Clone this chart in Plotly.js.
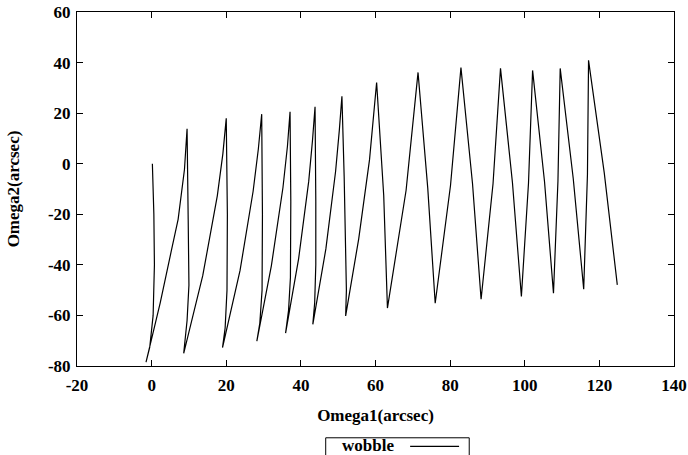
<!DOCTYPE html>
<html>
<head>
<meta charset="utf-8">
<script src="https://cdn.plot.ly/plotly-3.0.1.min.js"></script>
<style>html,body{margin:0;padding:0;background:#fff;}#chart{width:688px;height:455px;}</style>
</head>
<body>
<div id="chart"></div>
<script>
var seriesName = "wobble";
var xTitle = "Omega1(arcsec)";
var yTitle = "Omega2(arcsec)";
var xTicks = [-20, 0, 20, 40, 60, 80, 100, 120, 140];
var yTicks = [-80, -60, -40, -20, 0, 20, 40, 60];

var omega1 = [
  0.2, 0.6, 0.75, 0.4, -0.5, -1.5,
  2.3, 5.2, 7.1, 8.8, 9.5,
  9.8, 10.0, 9.5, 8.6,
  13.7, 17.6, 19.1, 20.0,
  20.3, 20.2, 19.7, 19.0,
  23.7, 27.2, 28.6, 29.5,
  29.7, 29.6, 29.0, 28.2,
  32.1, 35.2, 36.4, 37.1,
  37.3, 37.2, 36.7, 35.9,
  39.4, 42.1, 43.1, 43.8,
  44.0, 44.0, 43.7, 43.2,
  46.7, 49.3, 50.3, 51.0,
  51.6, 52.1, 52.2, 52.0,
  55.5, 58.4, 60.3,
  62.2, 63.2,
  68.2, 71.4,
  74.0, 76.0,
  80.1, 82.9,
  86.0, 88.3,
  91.5, 93.5,
  96.7, 99.1,
  101.0, 102.1,
  105.3, 107.7,
  108.9, 109.5,
  113.0, 115.8,
  116.8, 117.1,
  121.3, 124.8
];
var omega2 = [
  0, -20, -40, -60, -72.5, -78.5,
  -55, -35, -22, -2.3, 13.8,
  -22, -48, -62, -75,
  -44.3, -12.7, 4, 18,
  -20, -50, -65, -72.7,
  -42.2, -10.9, 5.8, 19.6,
  -20, -50, -63, -70.2,
  -40.3, -9.4, 6.9, 20.5,
  -15, -45, -58, -67,
  -37.5, -7, 9, 22.5,
  -15, -40, -55, -63.5,
  -33.7, -3.1, 13.2, 26.7,
  -5, -35, -50, -60.2,
  -29.7, 1.6, 32.1,
  -12.5, -57.1,
  -10.5, 36.1,
  -9.55, -55.2,
  -8.6, 38,
  -7.8, -53.6,
  -7.95, 37.7,
  -7.4, -52.5,
  -7.8, 36.9,
  -7.15, -51.2,
  -6.75, 37.7,
  -5.95, -49.6,
  -4.35, 40.9,
  -3.5, -47.9
];

var fontFam = "Liberation Serif, Times New Roman, serif";
var boldFont = {family: fontFam, size: 17, color: "#000", weight: "bold"};

var trace = {
  x: omega1, y: omega2, type: "scatter", mode: "lines",
  name: seriesName, showlegend: false,
  line: {color: "#000", width: 1.2}
};

var axisCommon = {
  showgrid: false, zeroline: false, showline: true, linecolor: "#000", linewidth: 1,
  mirror: "ticks", ticks: "inside", ticklen: 6, tickcolor: "#000", tickwidth: 1,
  tickfont: boldFont, tickmode: "array"
};

var layout = {
  width: 688, height: 455,
  margin: {l: 77, r: 14, t: 12, b: 89},
  paper_bgcolor: "#fff", plot_bgcolor: "#fff",
  showlegend: false,
  xaxis: Object.assign({}, axisCommon, {
    range: [-20, 140], tickvals: xTicks, ticktext: xTicks.map(String),
    ticklabelstandoff: 4,
    title: {text: xTitle, font: boldFont, standoff: 14}
  }),
  yaxis: Object.assign({}, axisCommon, {
    range: [-80, 60], tickvals: yTicks, ticktext: yTicks.map(String),
    ticklabelstandoff: 2,
    title: {text: yTitle, font: boldFont, standoff: 23}
  }),
  shapes: [
    {type: "rect", xref: "paper", yref: "paper", x0: 0.4166, x1: 0.657, y0: -0.27, y1: -0.2028,
     line: {color: "#000", width: 1}, fillcolor: "rgba(0,0,0,0)"},
    {type: "line", xref: "paper", yref: "paper", x0: 0.558, x1: 0.64, y0: -0.227, y1: -0.227,
     line: {color: "#000", width: 1.2}}
  ],
  annotations: [
    {xref: "paper", yref: "paper", x: 0.487, y: -0.2235, text: seriesName, showarrow: false,
     xanchor: "center", yanchor: "middle", borderpad: 0, font: boldFont}
  ]
};

Plotly.newPlot("chart", [trace], layout, {displayModeBar: false, staticPlot: true});
</script>
</body>
</html>
